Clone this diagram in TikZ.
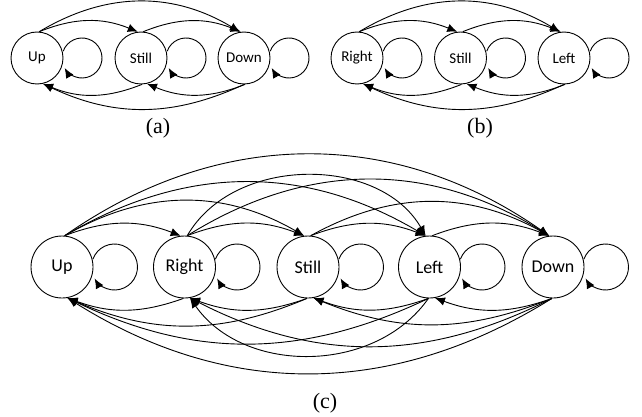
\documentclass[tikz,border=0pt]{standalone}
\usepackage{fontspec}
\newfontfamily\carlito{Carlito}
\newfontfamily\captfont{Liberation Serif}
\usetikzlibrary{arrows.meta}
\newcommand\selfloop[3]{\draw[tr] (#1) ++({#2+#3*cos(160)},{#3*sin(160)}) arc[start angle=160,end angle=-150,radius=#3];}
\begin{document}
\begin{tikzpicture}[x=1pt,y=1pt,
  st/.style={circle,draw,line width=0.9pt,minimum size=52pt,inner sep=0pt,font=\carlito\fontsize{15}{15}\selectfont},
  stc/.style={st,minimum size=62pt,font=\carlito\fontsize{18}{18}\selectfont},
  tr/.style={-{Latex[length=10pt,width=8.5pt]},line width=0.9pt},
  capt/.style={inner sep=0pt,font=\captfont\fontsize{22}{22}\selectfont}]
\useasboundingbox (0,0) rectangle (642,-417);
% (a)
\node[st] (aU) at (37,-58) {Up};
\node[st] (aS) at (141,-58) {Still};
\node[st] (aD) at (244,-58) {Down};
\draw[tr] (aU.85) to[bend left=22] (aS.97);
\draw[tr] (aU.85) to[bend left=31] (aD.99);
\draw[tr] (aS.85) to[bend left=22] (aD.97);
\draw[tr] (aS.-88) to[bend left=22] (aU.-77);
\draw[tr] (aD.-90) to[bend left=25] (aU.-77);
\draw[tr] (aD.-88) to[bend left=22] (aS.-77);
\selfloop{aU}{45}{20}
\selfloop{aS}{45}{20}
\selfloop{aD}{45}{20}
\node[capt] (ca) at (158,-128) {(a)};
% (b)
\node[st] (bR) at (357,-58) {Right};
\node[st] (bS) at (460.5,-58) {Still};
\node[st] (bL) at (564,-58) {Left};
\draw[tr] (bR.85) to[bend left=22] (bS.97);
\draw[tr] (bR.85) to[bend left=31] (bL.99);
\draw[tr] (bS.85) to[bend left=22] (bL.97);
\draw[tr] (bS.-88) to[bend left=22] (bR.-77);
\draw[tr] (bL.-90) to[bend left=25] (bR.-77);
\draw[tr] (bL.-88) to[bend left=22] (bS.-77);
\selfloop{bR}{45}{20}
\selfloop{bS}{45}{20}
\selfloop{bL}{45}{20}
\node[capt] (cb) at (480,-128) {(b)};
% (c)
\node[stc] (cU) at (62,-267) {Up};
\node[stc] (cR) at (184.5,-267) {Right};
\node[stc] (cS) at (308,-267) {Still};
\node[stc] (cL) at (429.5,-267) {Left};
\node[stc] (cD) at (553,-267) {Down};
\draw[tr] (cU.85) to[bend left=21] (cR.97);
\draw[tr] (cU.85) to[bend left=30] (cS.97);
\draw[tr] (cU.85) to[bend left=30.5] (cL.97);
\draw[tr] (cU.85) to[bend left=35] (cD.97);
\draw[tr] (cR.85) to[bend left=21] (cS.97);
\draw[tr] (cR.85) to[bend left=60] (cL.97);
\draw[tr] (cR.85) to[bend left=32] (cD.97);
\draw[tr] (cS.85) to[bend left=21] (cL.97);
\draw[tr] (cS.85) to[bend left=29] (cD.97);
\draw[tr] (cL.85) to[bend left=21] (cD.97);
\draw[tr] (cR.-92) to[bend left=20] (cU.-80);
\draw[tr] (cS.-92) to[bend left=23] (cU.-80);
\draw[tr] (cL.-92) to[bend left=25.5] (cU.-80);
\draw[tr] (cD.-92) to[bend left=32] (cU.-80);
\draw[tr] (cS.-92) to[bend left=20] (cR.-80);
\draw[tr] (cL.-92) to[bend left=55] (cR.-80);
\draw[tr] (cD.-92) to[bend left=27] (cR.-80);
\draw[tr] (cL.-92) to[bend left=20] (cS.-80);
\draw[tr] (cD.-92) to[bend left=22] (cS.-80);
\draw[tr] (cD.-92) to[bend left=20] (cL.-80);
\selfloop{cU}{52.5}{23}
\selfloop{cR}{52.5}{23}
\selfloop{cS}{52.5}{23}
\selfloop{cL}{52.5}{23}
\selfloop{cD}{52.5}{23}
\node[capt] (cc) at (325,-403) {(c)};
\end{tikzpicture}
\end{document}
